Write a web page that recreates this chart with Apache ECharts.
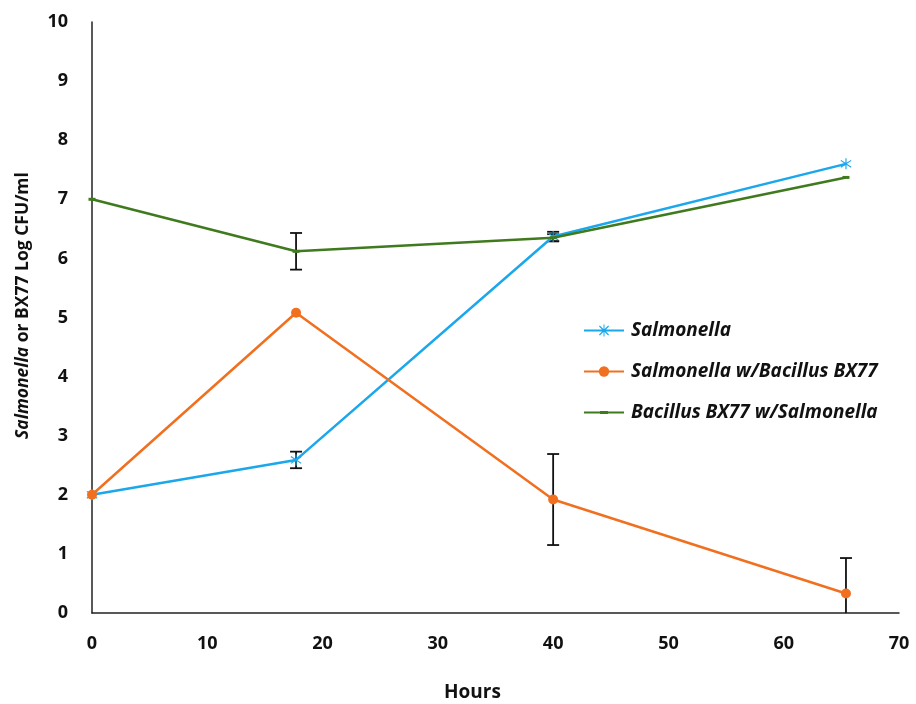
<!DOCTYPE html>
<html>
<head>
<meta charset="utf-8">
<script src="https://cdn.jsdelivr.net/npm/echarts@6/dist/echarts.min.js"></script>
<style>
  html, body { margin: 0; padding: 0; background: #fff; }
  #main { width: 916px; height: 704px; }
</style>
</head>
<body>
<div id="main"></div>
<script>
// sampling times (hours)
var hours = [0, 17.7, 40, 65.4];
// log CFU/ml
var salmonella = [2.0, 2.59, 6.37, 7.6];
var salmonellaWithBx = [2.0, 5.08, 1.92, 0.33];
var bacillusWithSal = [7.0, 6.12, 6.35, 7.37];
// error bar half-widths
var salmonellaErr = [0, 0.14, 0.08, 0];
var salmonellaWithBxErr = [0, 0, 0.77, 0.6];
var bacillusWithSalErr = [0, 0.31, 0.06, 0];

var seriesNames = ['Salmonella', 'Salmonella w/Bacillus BX77', 'Bacillus BX77 w/Salmonella'];

var chart = echarts.init(document.getElementById('main'));

var font = 'Open Sans';
var starPath = 'path://M4.5,0 L5.5,0 L5.5,10 L4.5,10 Z M0.3,2.3 L0.9,1.5 L9.7,7.7 L9.1,8.5 Z M0.3,7.7 L9.1,1.5 L9.7,2.3 L0.9,8.5 Z';
// legend icons: line with marker in the middle
var starIcon = 'path://M0,5.6 L40,5.6 L40,7.4 L0,7.4 Z M19.5,0.5 L20.5,0.5 L20.5,12.5 L19.5,12.5 Z M15,2.5 L15.8,1.6 L25,10.4 L24.2,11.4 Z M15,10.4 L24.2,1.6 L25,2.5 L15.8,11.4 Z';
var dashIcon = 'path://M0,5.6 L40,5.6 L40,7.4 L0,7.4 Z M16,5 L24,5 L24,8 L16,8 Z M0,0 L0.01,0 L0.01,0.01 Z M0,13 L0.01,13 L0.01,12.99 Z';

function pairs(ys) {
    return hours.map(function (h, i) { return [h, ys[i]]; });
}
function errData(ys, errs) {
    var out = [];
    hours.forEach(function (h, i) {
        if (errs[i] > 0) out.push([h, ys[i] - errs[i], ys[i] + errs[i]]);
    });
    return out;
}
function errorSeries(ys, errs) {
    return {
        type: 'custom',
        clip: true,
        silent: true,
        z: 1,
        data: errData(ys, errs),
        renderItem: function (params, api) {
            var lo = api.coord([api.value(0), api.value(1)]);
            var hi = api.coord([api.value(0), api.value(2)]);
            var w = 6;
            var st = { stroke: '#111', lineWidth: 1.8 };
            return {
                type: 'group',
                children: [
                    { type: 'line', shape: { x1: lo[0], y1: lo[1], x2: hi[0], y2: hi[1] }, style: st },
                    { type: 'line', shape: { x1: lo[0] - w, y1: lo[1], x2: lo[0] + w, y2: lo[1] }, style: st },
                    { type: 'line', shape: { x1: hi[0] - w, y1: hi[1], x2: hi[0] + w, y2: hi[1] }, style: st }
                ]
            };
        }
    };
}

var option = {
    animation: false,
    grid: { left: 92, right: 17, top: 22, bottom: 91, outerBoundsMode: 'none' },
    legend: {
        data: [
            { name: seriesNames[0], icon: starIcon },
            { name: seriesNames[1] },
            { name: seriesNames[2], icon: dashIcon }
        ],
        orient: 'vertical',
        left: 578,
        top: 315,
        itemWidth: 40,
        itemHeight: 13,
        itemGap: 20,
        textStyle: {
            fontFamily: font,
            fontSize: 19,
            fontWeight: 'bold',
            fontStyle: 'italic',
            color: '#111',
            lineHeight: 21,
            padding: [0, 0, 0, 2]
        }
    },
    xAxis: {
        type: 'value',
        min: 0,
        max: 70,
        interval: 10,
        name: 'Hours',
        nameLocation: 'middle',
        nameGap: 70,
        nameTextStyle: { fontFamily: font, fontSize: 19, fontWeight: 'bold', color: '#111', padding: [0, 46, 0, 0] },
        axisLine: { lineStyle: { color: '#222', width: 1.5 } },
        axisTick: { show: false },
        splitLine: { show: false },
        axisLabel: { fontFamily: font, fontSize: 18, fontWeight: 'bold', color: '#111', margin: 22 }
    },
    yAxis: {
        type: 'value',
        min: 0,
        max: 10,
        interval: 1,
        name: '{i|Salmonella} or BX77 Log CFU/ml',
        nameLocation: 'middle',
        nameGap: 60,
        nameTextStyle: {
            fontFamily: font, fontSize: 17.5, fontWeight: 'bold', color: '#111',
            padding: [0, 0, 0, 24],
            rich: {
                i: { fontFamily: font, fontSize: 17.5, fontWeight: 'bold', fontStyle: 'italic', color: '#111' }
            }
        },
        axisLine: { show: true, lineStyle: { color: '#222', width: 1.5 } },
        axisTick: { show: false },
        splitLine: { show: false },
        axisLabel: { fontFamily: font, fontSize: 18, fontWeight: 'bold', color: '#111', margin: 24 }
    },
    series: [
        errorSeries(salmonella, salmonellaErr),
        errorSeries(salmonellaWithBx, salmonellaWithBxErr),
        errorSeries(bacillusWithSal, bacillusWithSalErr),
        {
            name: seriesNames[0],
            type: 'line',
            data: pairs(salmonella),
            symbol: starPath,
            symbolSize: 11,
            color: '#1aa7ec',
            lineStyle: { width: 2.5, color: '#1aa7ec' },
            itemStyle: { color: '#1aa7ec' },
            z: 3
        },
        {
            name: seriesNames[1],
            type: 'line',
            data: pairs(salmonellaWithBx),
            symbol: 'circle',
            symbolSize: 10,
            color: '#f07020',
            lineStyle: { width: 2.5, color: '#f07020' },
            itemStyle: { color: '#f07020' },
            z: 3
        },
        {
            name: seriesNames[2],
            type: 'line',
            data: pairs(bacillusWithSal),
            symbol: 'rect',
            symbolSize: [7, 3],
            color: '#3f7a1e',
            lineStyle: { width: 2.5, color: '#3f7a1e' },
            itemStyle: { color: '#3f7a1e' },
            z: 3
        }
    ]
};

chart.setOption(option);
</script>
</body>
</html>
